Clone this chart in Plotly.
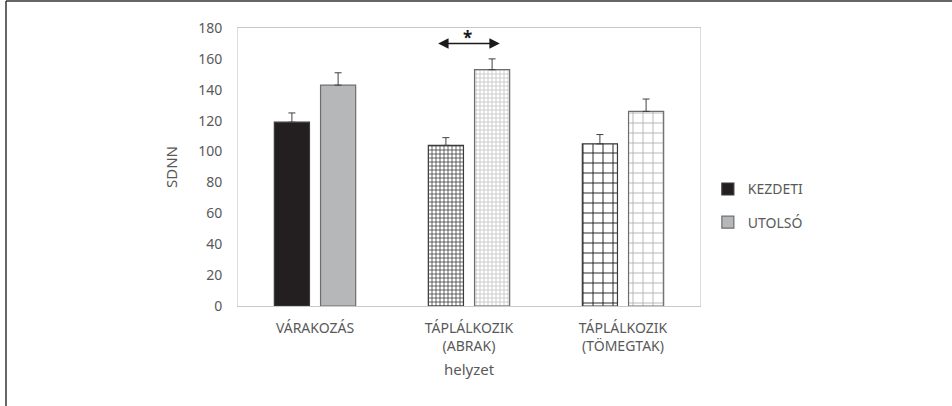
import plotly.graph_objects as go

# --- data ---
categories = ["VÁRAKOZÁS", "TÁPLÁLKOZIK<br>(ABRAK)", "TÁPLÁLKOZIK<br>(TÖMEGTAK)"]
kezdeti = [119, 104, 105]
kezdeti_err = [6, 5, 6]
utolso = [143, 153, 126]
utolso_err = [8, 7, 8]

FONT = "Liberation Sans Narrow, Noto Sans, sans-serif"
TXT = "#595959"

fig = go.Figure()

# in "replace" mode marker.color becomes the grid-line colour of patterned bars
fig.add_trace(go.Bar(
    x=categories, y=kezdeti, name="KEZDETI", legendgroup="k",
    marker=dict(
        color=["#231f20", "#262626", "#1e1e1e"],
        line=dict(color="#3a3a3a", width=1.2),
        pattern=dict(shape=["", "+", "+"], size=[4, 4, 10],
                     solidity=[0.3, 0.32, 0.18], bgcolor="white",
                     fillmode="replace"),
    ),
    error_y=dict(type="data", symmetric=False, array=kezdeti_err,
                 arrayminus=[0, 0, 0], color="#404040", thickness=1, width=3.5),
))

fig.add_trace(go.Bar(
    x=categories, y=utolso, name="UTOLSÓ", legendgroup="u",
    marker=dict(
        color=["#b6b7b9", "#b3b3b3", "#b0b0b0"],
        line=dict(color="#6d6e70", width=1.2),
        pattern=dict(shape=["", "+", "+"], size=[4, 4, 10],
                     solidity=[0.3, 0.3, 0.17], bgcolor="white",
                     fillmode="replace"),
    ),
    error_y=dict(type="data", symmetric=False, array=utolso_err,
                 arrayminus=[0, 0, 0], color="#404040", thickness=1, width=3.5),
))

# significance arrow between the two ABRAK bars
fig.add_annotation(x=1.2, y=170, ax=0.79, ay=170, xref="x", yref="y",
                   axref="x", ayref="y", text="", showarrow=True,
                   arrowhead=2, startarrowhead=2, arrowside="end+start",
                   arrowsize=1.3, startarrowsize=1.3, arrowwidth=1.6,
                   arrowcolor="#1a1a1a")
fig.add_annotation(x=0.99, y=174, xref="x", yref="y", text="<b>*</b>",
                   showarrow=False, font=dict(size=17, color="#1a1a1a"))

# outer frame of the figure (top and left edges)
fig.add_shape(type="line", xref="paper", yref="paper",
              x0=-232 / 462, x1=(952 - 238) / 462,
              y0=1 + 27 / 278, y1=1 + 27 / 278,
              line=dict(color="#333333", width=1.5))
fig.add_shape(type="line", xref="paper", yref="paper",
              x0=-232 / 462, x1=-232 / 462,
              y0=1 + 27 / 278, y1=-100 / 278,
              line=dict(color="#333333", width=1.5))

fig.update_layout(
    width=952, height=406,
    margin=dict(l=238, r=252, t=28, b=100),
    paper_bgcolor="white", plot_bgcolor="white",
    barmode="group", bargap=0.40, bargroupgap=0.24,
    font=dict(family=FONT, color=TXT, size=14),
    showlegend=True,
    legend=dict(x=1.017, y=0.36, xanchor="left", yanchor="middle",
                font=dict(size=14, color=TXT), tracegroupgap=12,
                itemwidth=30, bgcolor="rgba(0,0,0,0)"),
)

fig.update_xaxes(showline=True, linecolor="#c8c8c8", linewidth=1, mirror=True,
                 ticks="", tickfont=dict(size=14, color=TXT), ticklabelstandoff=9,
                 title=dict(text="helyzet", font=dict(size=15, color=TXT), standoff=10))
fig.update_yaxes(range=[0, 180], dtick=20, showgrid=False, zeroline=False,
                 showline=True, linecolor="#dcdcdc", linewidth=1, mirror=True,
                 ticks="", tickfont=dict(size=14, color=TXT), ticklabelstandoff=12,
                 title=dict(text="SDNN", font=dict(size=15, color=TXT), standoff=16))

fig.write_html("out.html", config={"displayModeBar": False},
               post_script="document.body.style.margin='0';")
